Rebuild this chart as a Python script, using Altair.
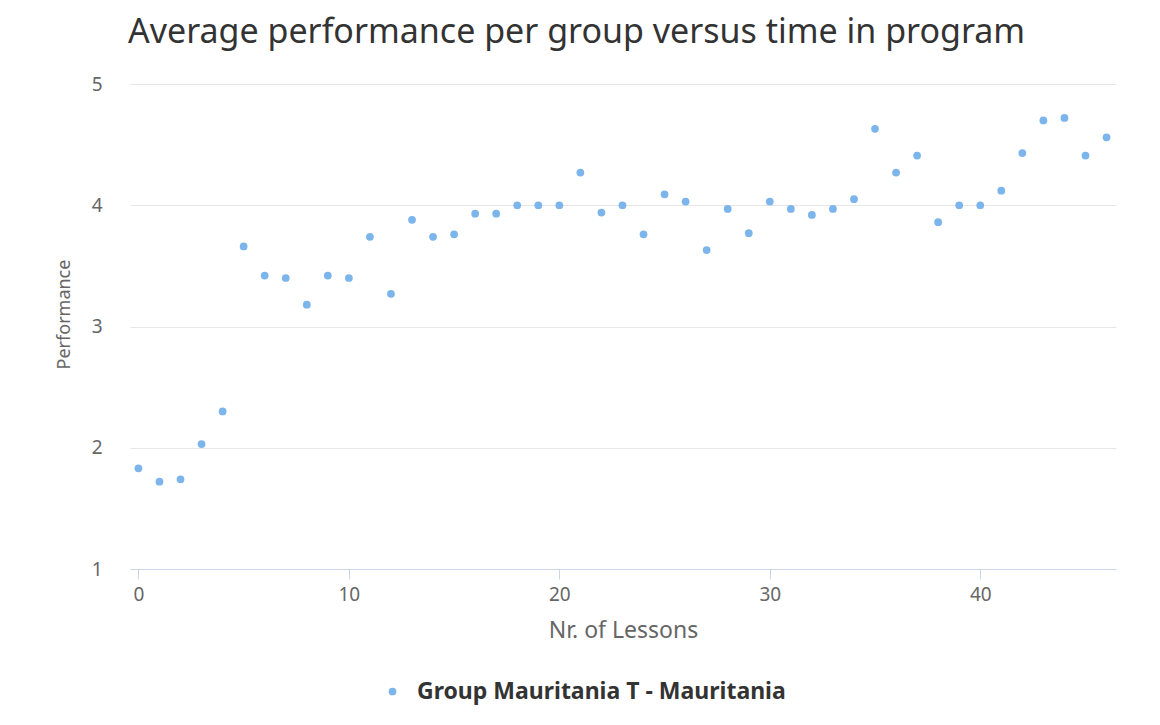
import altair as alt
import pandas as pd

lessons = list(range(47))
performance = [
    1.83, 1.72, 1.74, 2.03, 2.30, 3.66, 3.42, 3.40, 3.18, 3.42,
    3.40, 3.74, 3.27, 3.88, 3.74, 3.76, 3.93, 3.93, 4.00, 4.00,
    4.00, 4.27, 3.94, 4.00, 3.76, 4.09, 4.03, 3.63, 3.97, 3.77,
    4.03, 3.97, 3.92, 3.97, 4.05, 4.63, 4.27, 4.41, 3.86, 4.00,
    4.00, 4.12, 4.43, 4.70, 4.72, 4.41, 4.56,
]
series_name = "Group Mauritania T - Mauritania"
x_ticks = [0, 10, 20, 30, 40]
y_ticks = [1, 2, 3, 4, 5]

df = pd.DataFrame({
    "lesson": lessons,
    "performance": performance,
    "group": [series_name] * len(lessons),
})

FONT = "Noto Sans"

chart = alt.Chart(df).mark_circle(size=60, opacity=1).encode(
    x=alt.X(
        "lesson:Q",
        scale=alt.Scale(domain=[-0.4, 46.45], nice=False, zero=False),
        axis=alt.Axis(
            title="Nr. of Lessons",
            values=x_ticks,
            grid=False,
            domainColor="#ccd6eb",
            tickColor="#ccd6eb",
            tickSize=10,
            labelPadding=6,
            labelFontSize=19,
            labelColor="#666666",
            labelFont=FONT,
            titleFont=FONT,
            titleFontSize=23,
            titleFontWeight="normal",
            titleColor="#666666",
            titlePadding=15,
        ),
    ),
    y=alt.Y(
        "performance:Q",
        scale=alt.Scale(domain=[1, 5], nice=False, zero=False),
        axis=alt.Axis(
            title="Performance",
            values=y_ticks,
            grid=True,
            gridColor="#e6e6e6",
            domain=False,
            ticks=False,
            labelPadding=28,
            labelFontSize=19,
            labelColor="#666666",
            labelFont=FONT,
            titleFont=FONT,
            titleFontSize=18,
            titleFontWeight="normal",
            titleColor="#666666",
            titlePadding=18,
            titleY=230,
        ),
    ),
    color=alt.Color(
        "group:N",
        scale=alt.Scale(range=["#7cb5ec"]),
        legend=alt.Legend(
            title=None,
            orient="none",
            legendX=251,
            legendY=596,
            direction="horizontal",
            labelFont=FONT,
            labelFontSize=23,
            labelFontWeight="bold",
            labelColor="#333333",
            labelLimit=0,
            symbolSize=60,
            symbolType="circle",
            labelOffset=13,
        ),
    ),
).properties(
    width=986,
    height=485,
    background="white",
    title=alt.TitleParams(
        text="Average performance per group versus time in program",
        font=FONT,
        fontSize=34,
        fontWeight="normal",
        color="#333333",
        anchor="start",
        frame="group",
        dx=-2,
        offset=25,
    ),
    padding={"left": 122, "top": 76, "right": 30, "bottom": 140},
    autosize=alt.AutoSizeParams(type="none"),
).configure_view(
    stroke="transparent",
    strokeWidth=0,
)

chart.save("out.html", embed_options={"renderer": "svg", "actions": False})
